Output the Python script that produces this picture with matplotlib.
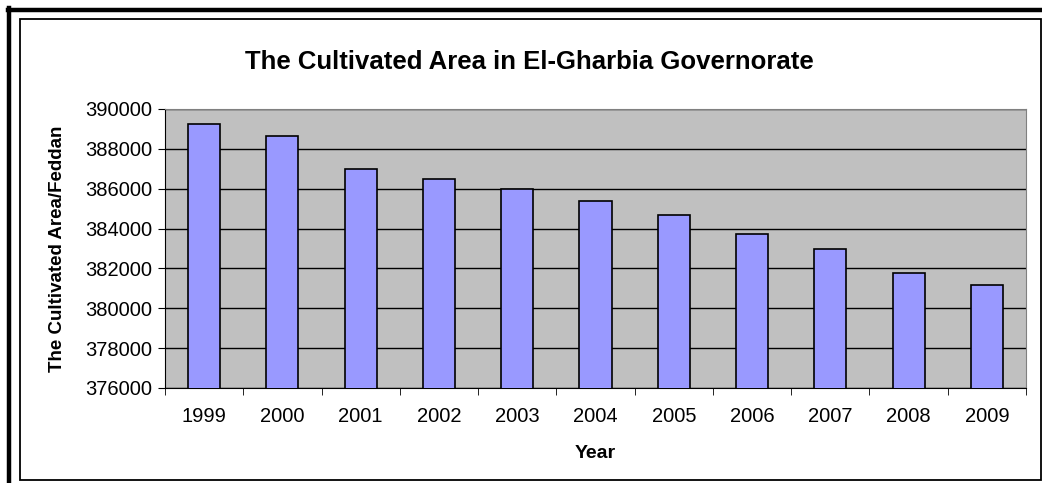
import matplotlib.pyplot as plt
from matplotlib.patches import Rectangle
from matplotlib.lines import Line2D
import numpy as np

years = ["1999", "2000", "2001", "2002", "2003", "2004",
         "2005", "2006", "2007", "2008", "2009"]
area = [389230, 388630, 386980, 386480, 385990, 385400,
        384690, 383750, 382950, 381750, 381180]
yticks = [376000, 378000, 380000, 382000, 384000, 386000, 388000, 390000]

plt.rcParams["font.family"] = ["Liberation Sans", "DejaVu Sans"]

fig = plt.figure(figsize=(10.42, 4.83), dpi=100)
W, H = 1042, 483

# outer thick frame (top and left) and inner chart frame
fig.add_artist(Line2D([8 / W, 1], [1 - 9.5 / H] * 2, color="black", lw=3.2,
                      transform=fig.transFigure))
fig.add_artist(Line2D([9 / W] * 2, [0, 1 - 8 / H], color="black", lw=3.2,
                      transform=fig.transFigure))
fig.add_artist(Rectangle((19.5 / W, 1 - 480 / H), (1040.5 - 19.5) / W, (480 - 18.5) / H,
                         fill=False, edgecolor="black", lw=1.3,
                         transform=fig.transFigure))

ax = fig.add_axes([165 / W, 1 - 388 / H, (1026 - 165) / W, (388 - 109) / H])
ax.set_facecolor("#C0C0C0")

x = np.arange(len(years))
ax.bar(x, area, width=0.41, color="#9999FF", edgecolor="black", linewidth=1.2, zorder=3)

ax.set_ylim(376000, 390000)
ax.set_xlim(-0.5, len(years) - 0.5)
ax.set_yticks(yticks)
ax.set_yticklabels([str(v) for v in yticks], fontsize=14.5)
ax.yaxis.grid(True, color="black", lw=1.0, zorder=1)
ax.set_axisbelow(True)

ax.set_xticks(x)
ax.set_xticklabels(years, fontsize=14.5)
ax.tick_params(axis="x", which="major", length=0, pad=14)
ax.set_xticks(np.arange(-0.5, len(years), 1), minor=True)
ax.tick_params(axis="x", which="minor", length=5, direction="out", color="black")
ax.tick_params(axis="y", length=5, direction="out", pad=4)

for s in ["top", "right"]:
    ax.spines[s].set_color("#808080")
for s in ["left", "bottom"]:
    ax.spines[s].set_color("black")

ax.set_xlabel("Year", fontsize=14, fontweight="bold", labelpad=13)
ax.set_ylabel("The Cultivated Area/Feddan", fontsize=13.5, fontweight="bold", labelpad=14)

fig.text(529 / W, 1 - 62 / H, "The Cultivated Area in El-Gharbia Governorate",
         ha="center", va="center", fontsize=18.5, fontweight="bold")

fig.savefig("out.png", dpi=100)
